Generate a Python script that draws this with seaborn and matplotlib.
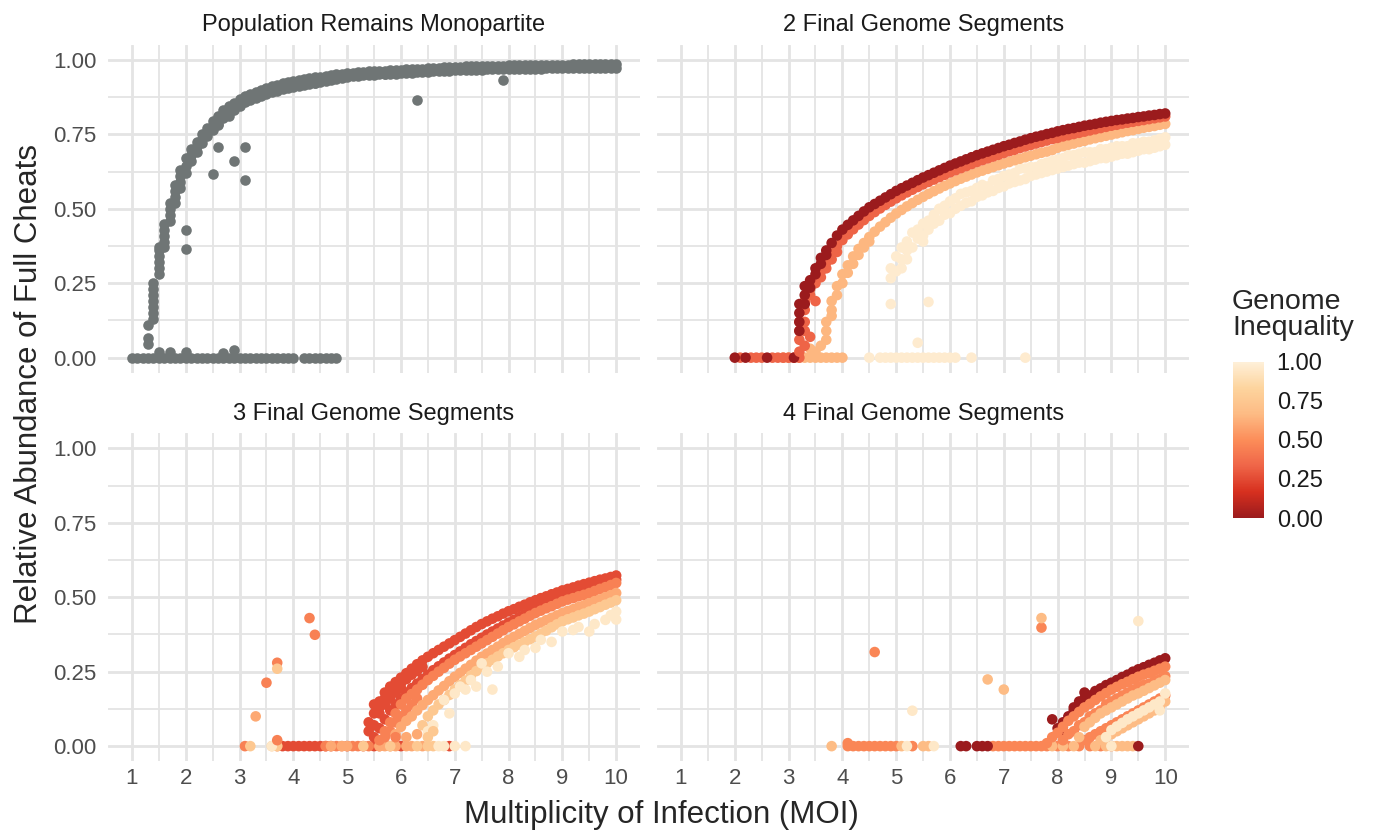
import pandas as pd
import seaborn as sns
import matplotlib.pyplot as plt
from matplotlib.colors import LinearSegmentedColormap, Normalize
from matplotlib.cm import ScalarMappable
from matplotlib.ticker import MultipleLocator, FormatStrFormatter

# ---------------- data ----------------
facet_titles = ['Population Remains Monopartite', '2 Final Genome Segments',
                '3 Final Genome Segments', '4 Final Genome Segments']

# MOI values used in the simulations; every curve below ends at MOI 10
moi_grid = [1.0, 1.1, 1.2, 1.3, 1.4, 1.5, 1.6, 1.7, 1.8, 1.9,
            2.0, 2.1, 2.2, 2.3, 2.4, 2.5, 2.6, 2.7, 2.8, 2.9,
            3.0, 3.1, 3.2, 3.3, 3.4, 3.5, 3.6, 3.7, 3.8, 3.9,
            4.0, 4.1, 4.2, 4.3, 4.4, 4.5, 4.6, 4.7, 4.8, 4.9,
            5.0, 5.1, 5.2, 5.3, 5.4, 5.5, 5.6, 5.7, 5.8, 5.9,
            6.0, 6.1, 6.2, 6.3, 6.4, 6.5, 6.6, 6.7, 6.8, 6.9,
            7.0, 7.1, 7.2, 7.3, 7.4, 7.5, 7.6, 7.7, 7.8, 7.9,
            8.0, 8.1, 8.2, 8.3, 8.4, 8.5, 8.6, 8.7, 8.8, 8.9,
            9.0, 9.1, 9.2, 9.3, 9.4, 9.5, 9.6, 9.7, 9.8, 9.9,
            10.0]

# --- panel 1: monopartite (no inequality value) ---
mono_upper = [.25, .37, .45, .52, .58, .63,
              .67, .70, .725, .75, .77, .795, .81, .83, .845, .855,
              .87, .878, .886, .893, .90, .906, .912, .917, .921, .925,
              .929, .932, .935, .938, .941, .944, .946, .949, .951, .953,
              .955, .957, .958, .96, .961, .962, .963, .964, .965, .966,
              .967, .968, .969, .97, .971, .972, .973, .974, .975, .976,
              .977, .977, .978, .978, .979, .979, .98, .98, .981, .981,
              .982, .982, .982, .983, .983, .983, .983, .984, .984, .984,
              .984, .984, .985, .985, .985, .985, .985, .985, .986, .986,
              .986]
mono_lower = [.13, .28, .37, .46, .52, .57,
              .62, .66, .69, .72, .745, .765, .785, .805, .82, .833,
              .845, .858, .866, .873, .88, .886, .892, .897, .901, .905,
              .909, .912, .915, .918, .921, .926, .929, .932, .935, .938,
              .943, .945, .946, .948, .949, .95, .951, .952, .953, .954,
              .955, .956, .957, .958, .959, .96, .961, .962, .963, .964,
              .965, .965, .966, .966, .967, .967, .968, .968, .969, .969,
              .97, .97, .97, .971, .971, .971, .971, .972, .972, .972,
              .972, .972, .973, .973, .973, .973, .973, .973, .974, .974,
              .974]
# replicate stacks on the steep part of the curve
mono_stack_moi = [1.4, 1.4, 1.4, 1.4, 1.4, 1.5, 1.5, 1.5, 1.5, 1.6, 1.6,
                  1.6, 1.7, 1.7, 1.8, 1.8, 1.9, 1.9, 2.0, 2.1, 2.2, 2.3,
                  2.4, 2.5, 2.6, 2.7]
mono_stack_y = [.15, .17, .19, .21, .23, .30, .32, .34, .36, .39, .41,
                .43, .48, .50, .54, .56, .59, .61, .645, .68, .71, .735,
                .758, .78, .798, .818]
mono_out_moi = [1.3, 1.3, 1.3, 1.5, 1.7, 2.0, 2.7, 2.9, 2.0, 2.0, 2.5,
                2.6, 2.9, 3.1, 3.1, 2.6, 2.8, 4.4, 5.7, 6.3, 7.9]
mono_out_y = [.108, .065, .045, .02, .02, .02, .015, .025, .43, .366, .616,
              .706, .661, .706, .597, .78, .813, .922, .954, .866, .933]
mono_zero_moi = [1.0, 1.1, 1.2, 1.3, 1.4, 1.5, 1.6, 1.7, 1.8, 1.9,
                 2.0, 2.1, 2.2, 2.3, 2.4, 2.5, 2.6, 2.7, 2.8, 2.9,
                 3.0, 3.1, 3.2, 3.3, 3.4, 3.5, 3.6, 3.7, 3.8, 3.9,
                 4.0, 4.2, 4.3, 4.4, 4.5, 4.6, 4.7, 4.8]

# --- panel 2: 2 segments ---
seg2_levels = [0.0, 0.33, 0.65, 0.97]
seg2_dark = [.15, .21, .26, .30, .335, .36, .385, .41,
             .43, .446, .461, .476, .491, .505, .516, .527, .538, .549,
             .56, .569, .578, .587, .596, .605, .613, .621, .629, .637,
             .645, .652, .659, .666, .673, .68, .686, .692, .698, .704,
             .71, .715, .721, .726, .732, .737, .742, .746, .751, .755,
             .76, .764, .768, .771, .775, .779, .782, .785, .789, .792,
             .795, .798, .80, .803, .805, .808, .81, .813, .815, .818,
             .82]
seg2_red = [.06, .16, .21, .25, .29, .32, .35, .375,
            .395, .414, .431, .447, .462, .476, .489, .501, .513, .524,
            .535, .545, .555, .564, .573, .582, .59, .598, .606, .614,
            .622, .629, .636, .643, .65, .657, .663, .669, .675, .681,
            .687, .693, .698, .704, .709, .714, .719, .724, .729, .734,
            .738, .743, .747, .751, .755, .759, .763, .767, .771, .775,
            .779, .782, .786, .789, .792, .795, .798, .801, .804, .807,
            .81]
seg2_light = [.12, .19, .24,
              .28, .31, .34, .365, .385, .405, .423, .44, .455, .47,
              .484, .496, .508, .519, .53, .54, .55, .559, .568, .577,
              .585, .593, .601, .608, .615, .622, .628, .634, .64, .646,
              .652, .657, .663, .668, .673, .678, .683, .688, .692, .697,
              .705, .71, .715, .719, .724, .728, .733, .737, .741, .745,
              .749, .753, .757, .761, .764, .768, .772, .775, .778, .782,
              .785]
seg2_cream_upper = [.30,
                    .34, .37, .39, .42, .43, .45, .46, .48, .50, .51,
                    .525, .535, .55, .555, .56, .57, .58, .575, .595, .60,
                    .61, .615, .62, .635, .635, .64, .64, .65, .655, .66,
                    .665, .67, .68, .68, .685, .69, .69, .69, .70, .70,
                    .705, .71, .71, .71, .72, .72, .725, .725, .73, .735,
                    .74]
seg2_cream_lower = [.29, .33, .36, .37, .40, .41, .43, .45, .46, .48,
                    .485, .50, .51, .52, .525, .54, .545, .555, .56, .57,
                    .575, .585, .59, .595, .60, .61, .615, .62, .625, .63,
                    .635, .64, .645, .65, .655, .655, .66, .665, .67, .67,
                    .675, .68, .685, .685, .69, .695, .70, .70, .705, .71,
                    .715]
seg2_dark_extra_moi = [3.2, 3.2, 3.2, 3.3, 3.3, 3.4, 3.5, 3.6, 3.7]
seg2_dark_extra_y = [.09, .12, .18, .18, .24, .235, .28, .315, .345]
seg2_red_extra_moi = [3.2, 3.2, 3.2, 3.3, 3.3, 3.3, 3.3, 3.4, 3.4, 3.5,
                      3.5, 3.6, 3.7, 3.8, 3.9]
seg2_red_extra_y = [.02, .09, .12, .04, .09, .12, .19, .07, .23, .19,
                    .27, .27, .30, .33, .355]
seg2_light_extra_moi = [3.4, 3.5, 3.6, 3.7, 3.7, 3.8, 3.8, 3.9, 4.0, 4.1,
                        4.2, 4.3, 4.4, 4.5]
seg2_light_extra_y = [.03, .02, .04, .06, .09, .14, .16, .21, .25, .285,
                      .315, .345, .37, .39]
seg2_cream_extra_moi = [4.9, 4.9, 5.6, 5.4, 5.1, 5.2, 5.5]
seg2_cream_extra_y = [.267, .18, .187, .05, .30, .33, .39]
seg2_zero_dark = [2.0, 2.2, 2.6, 3.1]
seg2_zero_red = [2.1, 2.3, 2.4, 2.5, 2.7, 2.8, 2.9, 3.0, 3.1, 3.2]
seg2_zero_light = [2.9, 3.0, 3.2, 3.3, 3.4, 3.5, 3.6, 3.7, 3.8, 3.9, 4.0]
seg2_zero_cream = [4.5, 4.7, 4.8, 4.9, 5.0, 5.1, 5.2, 5.3, 5.4, 5.5,
                   5.6, 5.7, 5.8, 5.9, 6.0, 6.1, 6.4, 7.4]

# --- panel 3: 3 segments ---
seg3_levels = [0.25, 0.45, 0.6, 0.75, 0.95]
seg3_red_upper = [.08, .11, .15, .18, .20, .215,
                  .23, .245, .26, .275, .288, .30, .312, .323, .334, .345,
                  .356, .367, .378, .389, .40, .41, .419, .428, .436, .445,
                  .453, .46, .468, .475, .483, .49, .497, .503, .51, .516,
                  .523, .528, .533, .539, .544, .549, .554, .559, .563, .568,
                  .573]
seg3_red_lower = [.03, .06, .09, .12, .14,
                  .16, .18, .195, .21, .225, .24, .255, .268, .281, .294,
                  .306, .318, .33, .342, .353, .364, .375, .385, .395, .405,
                  .415, .424, .433, .442, .451, .46, .468, .476, .484, .491,
                  .499, .506, .513, .519, .526, .532, .538, .544, .549, .554,
                  .559]
seg3_red_extra_moi = [5.4, 5.5, 5.5, 5.6, 5.6, 5.7, 5.7, 5.8, 5.8, 5.9,
                      5.9, 6.0, 6.0, 6.1, 6.2, 6.3, 6.4]
seg3_red_extra_y = [.05, .07, .14, .11, .13, .14, .16, .16, .18, .18,
                    .20, .195, .21, .225, .24, .252, .266]
seg3_orange = [.02, .05, .08, .11,
               .14, .16, .175, .19, .206, .222, .236, .25, .263, .277,
               .29, .301, .312, .323, .334, .345, .356, .367, .378, .389,
               .40, .409, .419, .428, .438, .447, .455, .463, .47, .478,
               .486, .492, .497, .503, .508, .514, .521, .528, .534, .541,
               .548]
seg3_orange_extra_moi = [5.7, 5.8, 5.9, 6.0, 6.1, 6.2, 6.3]
seg3_orange_extra_y = [.03, .05, .08, .10, .12, .14, .16]
seg3_peach = [.04,
              .065, .085, .10, .12, .138, .155, .171, .187, .202, .218,
              .233, .246, .26, .273, .287, .30, .311, .323, .334, .346,
              .357, .367, .377, .387, .397, .407, .415, .423, .431, .439,
              .447, .454, .46, .467, .473, .48, .487, .493, .50, .507,
              .514]
seg3_light = [.07, .10, .12, .14, .155, .172,
              .19, .205, .22, .237, .252, .267, .278, .29, .301, .312,
              .323, .332, .341, .35, .359, .368, .378, .388, .399, .409,
              .419, .426, .432, .439, .445, .452, .46, .467, .475, .482,
              .49]
seg3_cream_moi = [6.5, 6.6, 6.8, 6.9, 7.0, 7.1, 7.2, 7.3, 7.4, 7.5, 7.6,
                  7.7, 7.8, 8.0, 8.2, 8.3, 8.5, 8.6, 8.8, 9.0, 9.2, 9.3,
                  9.5, 9.6, 9.8, 9.9, 10.0, 10.0]
seg3_cream_y = [.05, .07, .155, .11, .177, .20, .19, .222, .20, .278, .25,
                .19, .267, .312, .30, .323, .33, .357, .35, .385, .39, .40,
                .385, .41, .424, .44, .452, .425]
seg3_low_moi = [5.9, 6.1, 6.3, 6.5, 6.6]
seg3_low_y = [.03, .03, .04, .03, .05]
seg3_low_level = [0.45, 0.6, 0.6, 0.75, 0.75]
seg3_out_moi = [3.5, 3.7, 4.3, 4.4, 3.7, 3.3, 3.7]
seg3_out_y = [.213, .28, .43, .374, .02, .10, .26]
seg3_out_level = [0.45, 0.45, 0.45, 0.45, 0.45, 0.6, 0.75]
seg3_zero_red = [3.8, 3.9, 4.0, 4.1, 4.2, 4.3, 4.4, 4.5, 4.6, 4.7,
                 5.0, 5.3, 5.5, 6.0, 6.9]
seg3_zero_orange = [3.1, 3.7, 4.6, 4.8, 4.9, 5.1, 5.2, 5.4, 5.6, 5.8]
seg3_zero_peach = [4.7, 4.9, 5.0, 5.6, 5.7, 5.9, 6.1, 6.2, 6.4]
seg3_zero_light = [3.2, 3.6, 3.7, 5.3, 5.8, 6.3, 6.5, 6.6]
seg3_zero_cream = [3.6, 6.7, 6.8, 7.0, 7.2]

# --- panel 4: 4 segments ---
seg4_levels = [0.0, 0.47, 0.67, 0.95]
seg4_dark = [.08, .10, .12, .15, .16, .17, .185, .194, .205,
             .213, .222, .232, .24, .25, .258, .265, .273, .28, .288,
             .295]
seg4_orange_upper = [.01, .03,
                     .045, .065, .085, .10, .115, .13, .142, .155, .167, .178,
                     .19, .199, .208, .216, .225, .233, .24, .246, .253, .26,
                     .267]
seg4_orange_lower = [.02, .04, .05, .07, .08, .10, .11, .12, .14,
                     .15, .16, .17, .18, .19, .20, .205, .21, .22, .225,
                     .235]
seg4_orange_bottom = [.02, .03, .04, .05, .06, .07, .08, .09,
                      .10, .11, .12, .13, .14, .15, .16, .17]
seg4_peach = [.03, .065, .08, .095, .11, .12,
              .13, .14, .15, .16, .17, .177, .186, .195, .204, .213,
              .222]
seg4_peach_lower = [.02, .03, .04, .05, .06, .07, .08, .09, .10, .11, .12,
                    .13, .15]
seg4_cream = [.03,
              .054, .066, .078, .09, .10, .11, .12, .13, .14, .15,
              .177]
seg4_dark_extra_moi = [7.9, 8.0, 8.1, 8.3, 8.5]
seg4_dark_extra_y = [.09, .06, .05, .13, .18]
seg4_out_moi = [4.6, 7.7, 4.1, 7.7, 6.7, 7.0, 5.3, 9.5, 9.9]
seg4_out_y = [.316, .398, .01, .43, .224, .19, .119, .42, .12]
seg4_out_level = [0.47, 0.47, 0.47, 0.67, 0.67, 0.67, 0.95, 0.95, 0.95]
seg4_zero_dark = [6.2, 6.3, 6.5, 6.6, 6.7, 9.5]
seg4_zero_orange = [4.1, 4.2, 4.3, 4.4, 4.5, 4.6, 4.7, 4.8, 4.9, 5.0, 5.3,
                    6.8, 6.9, 7.0, 7.1, 7.2, 7.3, 7.4, 7.5, 7.6, 7.7, 7.8,
                    8.0, 8.2, 8.4, 8.6, 8.8, 9.0]
seg4_zero_peach = [3.8, 5.1, 5.5, 5.6, 7.9, 8.1, 8.3, 8.7, 8.9, 9.1, 9.2,
                   9.3, 9.4]
seg4_zero_cream = [5.2, 5.7, 9.0]

# ---------------- assemble long table ----------------
rows = []


def add(facet, level, moi, y):
    for m, v in zip(moi, y):
        rows.append((facet, m, v, level))


def add_curve(facet, level, y):
    # curve values run up to MOI 10, so align them with the end of the grid
    add(facet, level, moi_grid[-len(y):], y)


def add_zero(facet, level, moi):
    add(facet, level, moi, [0.0] * len(moi))


f1, f2, f3, f4 = facet_titles
add_zero(f1, None, mono_zero_moi)
add_curve(f1, None, mono_lower)
add_curve(f1, None, mono_upper)
add(f1, None, mono_stack_moi, mono_stack_y)
add(f1, None, mono_out_moi, mono_out_y)

d0, d1, d2, d3 = seg2_levels
add_zero(f2, d3, seg2_zero_cream)
add_zero(f2, d2, seg2_zero_light)
add_zero(f2, d1, seg2_zero_red)
add_zero(f2, d0, seg2_zero_dark)
add_curve(f2, d3, seg2_cream_lower)
add_curve(f2, d3, seg2_cream_upper)
add(f2, d3, seg2_cream_extra_moi, seg2_cream_extra_y)
add_curve(f2, d2, seg2_light)
add(f2, d2, seg2_light_extra_moi, seg2_light_extra_y)
add_curve(f2, d1, seg2_red)
add(f2, d1, seg2_red_extra_moi, seg2_red_extra_y)
add_curve(f2, d0, seg2_dark)
add(f2, d0, seg2_dark_extra_moi, seg2_dark_extra_y)

t0, t1, t2, t3, t4 = seg3_levels
add_zero(f3, t0, seg3_zero_red)
add_zero(f3, t1, seg3_zero_orange)
add_zero(f3, t2, seg3_zero_peach)
add_zero(f3, t3, seg3_zero_light)
add_zero(f3, t4, seg3_zero_cream)
add_curve(f3, t0, seg3_red_lower)
add(f3, t0, seg3_red_extra_moi, seg3_red_extra_y)
add_curve(f3, t0, seg3_red_upper)
add_curve(f3, t1, seg3_orange)
add(f3, t1, seg3_orange_extra_moi, seg3_orange_extra_y)
add_curve(f3, t2, seg3_peach)
add_curve(f3, t3, seg3_light)
add(f3, t4, seg3_cream_moi, seg3_cream_y)
for m, v, lv in zip(seg3_low_moi, seg3_low_y, seg3_low_level):
    rows.append((f3, m, v, lv))
for m, v, lv in zip(seg3_out_moi, seg3_out_y, seg3_out_level):
    rows.append((f3, m, v, lv))

q0, q1, q2, q3 = seg4_levels
add_zero(f4, q1, seg4_zero_orange)
add_zero(f4, q2, seg4_zero_peach)
add_zero(f4, q3, seg4_zero_cream)
add_zero(f4, q0, seg4_zero_dark)
add_curve(f4, q0, seg4_dark)
add(f4, q0, seg4_dark_extra_moi, seg4_dark_extra_y)
add_curve(f4, q1, seg4_orange_bottom)
add_curve(f4, q1, seg4_orange_lower)
add_curve(f4, q1, seg4_orange_upper)
add_curve(f4, q2, seg4_peach_lower)
add_curve(f4, q2, seg4_peach)
add_curve(f4, q3, seg4_cream)
for m, v, lv in zip(seg4_out_moi, seg4_out_y, seg4_out_level):
    rows.append((f4, m, v, lv))

df = pd.DataFrame(rows, columns=['facet', 'moi', 'abundance', 'inequality'])

# ---------------- plot ----------------
sns.set_theme(style='white')
plt.rcParams['font.family'] = ['Liberation Sans', 'DejaVu Sans']

cmap = LinearSegmentedColormap.from_list(
    'orrd_r', ['#9b1b1d', '#d7301f', '#ef6548', '#fc8d59',
               '#fdbb84', '#fdd49e', '#fef0d9'])
norm = Normalize(0, 1)
grey = '#6f7575'
pt_size = 58

fig, axes = plt.subplots(2, 2, figsize=(13.76, 8.3), dpi=100,
                         sharex=True, sharey=True)
fig.subplots_adjust(left=0.0783, right=0.8644, bottom=0.0831, top=0.9458,
                    wspace=0.0308, hspace=0.186)

for ax, title in zip(axes.flat, facet_titles):
    sub = df[df['facet'] == title]
    if title == f1:
        sns.scatterplot(data=sub, x='moi', y='abundance', color=grey,
                        s=pt_size, linewidth=0, ax=ax)
    else:
        sns.scatterplot(data=sub, x='moi', y='abundance', hue='inequality',
                        palette=cmap, hue_norm=norm, s=pt_size, linewidth=0,
                        legend=False, ax=ax)
    ax.set_xlim(0.55, 10.45)
    ax.set_ylim(-0.05, 1.05)
    ax.xaxis.set_major_locator(MultipleLocator(1))
    ax.xaxis.set_minor_locator(MultipleLocator(0.5))
    ax.yaxis.set_major_locator(MultipleLocator(0.25))
    ax.yaxis.set_minor_locator(MultipleLocator(0.125))
    ax.yaxis.set_major_formatter(FormatStrFormatter('%.2f'))
    ax.set_axisbelow(True)
    ax.grid(which='major', color='#e4e4e4', linewidth=2.0)
    ax.grid(which='minor', color='#e4e4e4', linewidth=1.3)
    for sp in ax.spines.values():
        sp.set_visible(False)
    ax.tick_params(which='both', length=0, labelsize=16, labelcolor='#4d4d4d')
    ax.tick_params(axis='y', pad=8)
    ax.tick_params(axis='x', pad=5)
    ax.set_xlabel('')
    ax.set_ylabel('')
    ax.set_title(title, fontsize=17, color='#1a1a1a', pad=10)

fig.text(0.021, 0.537, 'Relative Abundance of Full Cheats', rotation=90,
         ha='center', va='center', fontsize=22.5)
fig.text(0.481, 0.018, 'Multiplicity of Infection (MOI)',
         ha='center', va='center', fontsize=22.5)

# colour bar legend
cax = fig.add_axes([0.8959, 0.3759, 0.0228, 0.1883])
cbar = fig.colorbar(ScalarMappable(norm=norm, cmap=cmap), cax=cax)
cbar.outline.set_visible(False)
cbar.set_ticks([0, 0.25, 0.5, 0.75, 1.0])
cbar.set_ticklabels(['0.00', '0.25', '0.50', '0.75', '1.00'])
cax.yaxis.set_ticks_position('both')
cax.tick_params(direction='in', color='white', length=4.5, width=1,
                labelsize=17, pad=9, labelcolor='#1a1a1a')
fig.text(0.8953, 0.652, 'Genome\nInequality', ha='left', va='top',
         fontsize=20.5, linespacing=1.0)

fig.savefig('out.png', dpi=100)
